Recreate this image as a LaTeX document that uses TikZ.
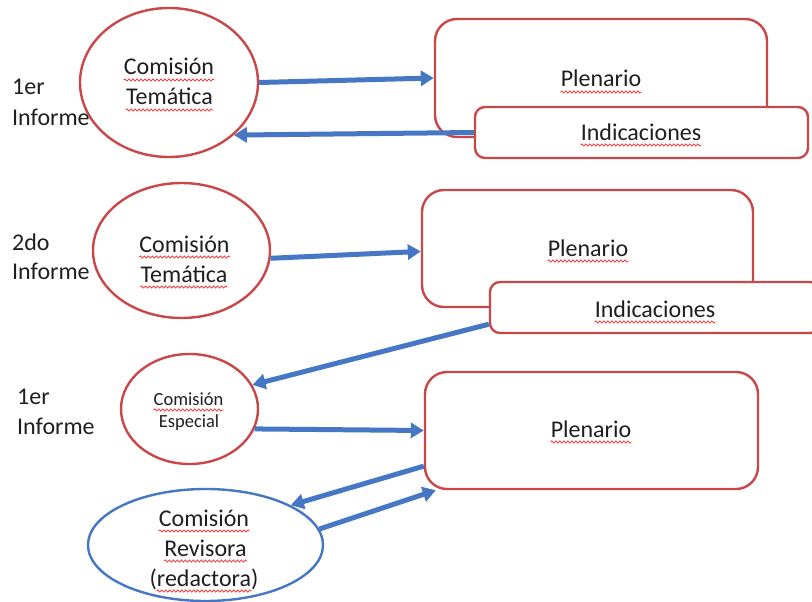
\documentclass[tikz,border=0pt]{standalone}
\usepackage{fontspec}
\setmainfont{Carlito}
\usetikzlibrary{shapes.geometric,arrows.meta,decorations.pathmorphing}
\definecolor{cred}{HTML}{C8484A}
\definecolor{cblue}{HTML}{4677C4}
\newcommand\wig[1]{\draw[sq] ([yshift=-5pt]#1.base west) -- ([yshift=-5pt]#1.base east);}
\begin{document}
\begin{tikzpicture}[x=1pt,y=-1pt,
 ell/.style={ellipse,draw=cred,line width=2.4pt,fill=white,inner sep=0},
 box/.style={rectangle,draw=cred,line width=2.4pt,fill=white,rounded corners=22pt,inner sep=0},
 ibox/.style={box,rounded corners=10pt},
 txt/.style={anchor=base,inner sep=0,font=\fontsize{24}{28}\selectfont,text=black!88},
 stxt/.style={txt,font=\fontsize{18.5}{22}\selectfont},
 lbl/.style={txt,anchor=base west},
 arr/.style={draw=cblue,line width=5pt,-{Triangle[length=13pt,width=15pt]}},
 sq/.style={draw=red!85,line width=0.7pt,decorate,decoration={snake,amplitude=1.1pt,segment length=4pt}}]
\useasboundingbox (0,0) rectangle (812,602);
\clip (0,0) rectangle (812,602);
\fill[white] (0,0) rectangle (812,602);

% shapes
\node[ell,minimum width=178pt,minimum height=149pt] (ct1) at (169,82.5) {};
\node[box,minimum width=332pt,minimum height=118pt] (pl1) at (601,78) {};
\node[ibox,minimum width=333pt,minimum height=51pt] (in1) at (641.5,132.5) {};

\node[ell,minimum width=177pt,minimum height=135pt] (ct2) at (181.5,250.5) {};
\node[box,minimum width=331pt,minimum height=117pt] (pl2) at (587.5,248.5) {};
\node[ibox,minimum width=330pt,minimum height=51pt] (in2) at (655,307.5) {};

\node[ell,minimum width=137pt,minimum height=110pt] (ce) at (189.5,409) {};
\node[box,minimum width=333pt,minimum height=117pt] (pl3) at (591.5,430.5) {};
\node[ell,draw=cblue,minimum width=235pt,minimum height=112pt] (cr) at (205.5,545) {};

% arrows
\draw[arr] (ct1.east) -- (pl1.west);
\draw[arr] (in1.west) -- (ct1.-39);
\draw[arr] (ct2.-5) -- (pl2.181);
\draw[arr] ([yshift=10pt]in2.south west) -- (ce.21);
\draw[arr] (ce.-17) -- (pl3.west);
\draw[arr] (pl3.192) -- (cr.25);
\draw[arr] (cr.8) -- ([xshift=12pt]pl3.south west);

% left labels
\node[lbl] (l1a) at (12,95) {1er};
\node[lbl] (l1b) at (12,125) {Informe};
\node[lbl] (l2a) at (12,250) {2do};
\node[lbl] (l2b) at (12,279) {Informe};
\node[lbl] (l3a) at (17,404) {1er};
\node[lbl] (l3b) at (17,434) {Informe};

% texts
\node[txt] (t1a) at (169,75) {Comisión}; \wig{t1a}
\node[txt] (t1b) at (169.5,105) {Temática}; \wig{t1b}
\node[txt] (p1) at (601,87) {Plenario}; \wig{p1}
\node[txt] (i1) at (641,140) {Indicaciones}; \wig{i1}

\node[txt] (t2a) at (184.5,252) {Comisión}; \wig{t2a}
\node[txt] (t2b) at (184,282) {Temática}; \wig{t2b}
\node[txt] (p2) at (588,256) {Plenario}; \wig{p2}
\node[txt] (i2) at (655,317) {Indicaciones}; \wig{i2}

\node[stxt] (t3a) at (188.5,405) {Comisión}; \wig{t3a}
\node[stxt] (t3b) at (189,427) {Especial};
\node[txt] (p3) at (591,437) {Plenario}; \wig{p3}

\node[txt] (t4a) at (204,526) {Comisión}; \wig{t4a}
\node[txt] (t4b) at (205.5,556) {Revisora}; \wig{t4b}
\node[txt] (t4c) at (204,586) {(redactora)};
\draw[sq] ([yshift=-5pt,xshift=7pt]t4c.base west) -- ([yshift=-5pt,xshift=-7pt]t4c.base east);
\end{tikzpicture}
\end{document}
